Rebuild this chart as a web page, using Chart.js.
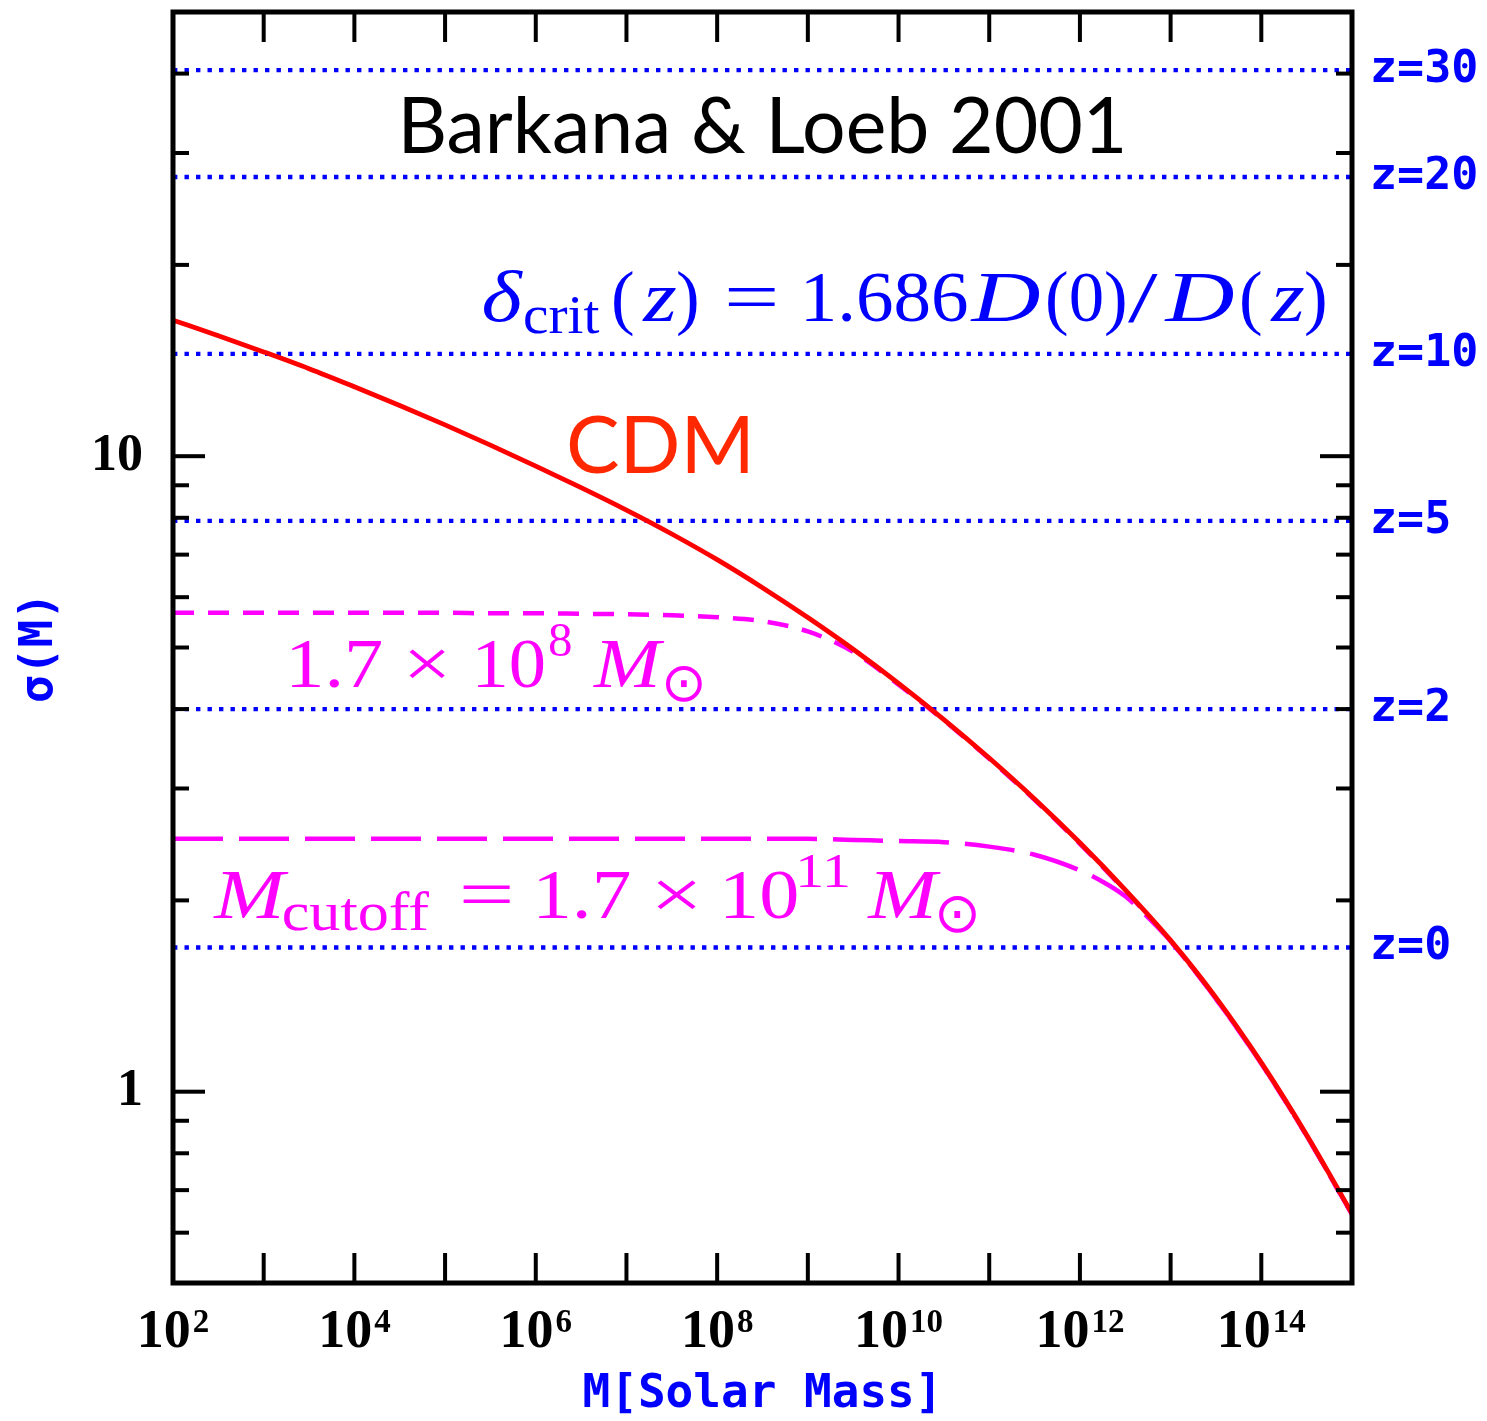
<!DOCTYPE html>
<html>
<head>
<meta charset="utf-8">
<script src="https://cdn.jsdelivr.net/npm/chart.js@4.4.1/dist/chart.umd.min.js"></script>
<style>
html,body{margin:0;padding:0;background:#fff;}
#wrap{width:1487px;height:1421px;position:relative;}
canvas{display:block;}
</style>
</head>
<body>
<div id="wrap"><canvas id="c" width="1487" height="1421"></canvas></div>
<script>
// ---------------- data ----------------
const massGrid = [1e2, 3.162e2, 1e3, 3.162e3, 1e4, 3.162e4, 1e5, 3.162e5, 1e6, 3.162e6, 1e7, 3.162e7, 1e8, 3.162e8, 1e9, 3.162e9, 1e10, 3.162e10, 1e11, 3.162e11, 1e12, 3.162e12, 1e13, 3.162e13, 1e14, 3.162e14, 1e15];
const cdmSigma = [16.37, 15.47, 14.59, 13.73, 12.86, 12.02, 11.20, 10.41, 9.647, 8.921, 8.224, 7.543, 6.873, 6.210, 5.573, 4.968, 4.391, 3.851, 3.350, 2.888, 2.464, 2.078, 1.730, 1.406, 1.111, 0.855, 0.643];
const cut8Sigma = [5.67, 5.67, 5.67, 5.67, 5.67, 5.67, 5.67, 5.66, 5.66, 5.65, 5.64, 5.62, 5.58, 5.50, 5.30, 4.92, 4.37, 3.84, 3.34, 2.88, 2.455, 2.07, 1.724, 1.40, 1.107, 0.852, 0.641];
const cut11Mass = [1e2, 3.162e2, 1e3, 3.162e3, 1e4, 3.162e4, 1e5, 3.162e5, 1e6, 3.162e6, 1e7, 3.162e7, 1e8, 3.162e8, 1e9, 3.162e9, 1e10, 3.162e10, 1e11, 3.162e11, 1e12, 1.778e12, 3.162e12, 5.623e12, 1e13, 3.162e13, 1e14, 3.162e14, 1e15];
const cut11Sigma = [2.50, 2.50, 2.50, 2.50, 2.50, 2.50, 2.50, 2.50, 2.50, 2.50, 2.50, 2.50, 2.50, 2.50, 2.50, 2.49, 2.48, 2.47, 2.43, 2.36, 2.23, 2.14, 2.03, 1.88, 1.725, 1.40, 1.107, 0.852, 0.641];
const deltaCrit = [1.686, 4.00, 7.91, 14.49, 27.5, 40.5];
const zLabels = ['z=0', 'z=2', 'z=5', 'z=10', 'z=20', 'z=30'];
const lineEnds = [1e2, 1e15];
const xDecadeTicks = [1e3, 1e4, 1e5, 1e6, 1e7, 1e8, 1e9, 1e10, 1e11, 1e12, 1e13, 1e14];
const xLabelExponents = [2, 4, 6, 8, 10, 12, 14];
const yMajorTicks = [1, 10];
const yMinorTicks = [0.6, 0.7, 0.8, 0.9, 2, 3, 4, 5, 6, 7, 8, 9, 20, 30, 40];

// ---------------- styles ----------------
const RED = '#ff0000', MAG = '#ff00ff', BLUE = '#0000ff';
const MATH = "'Liberation Serif', 'DejaVu Serif', serif";
const MONO = "'DejaVu Sans Mono', monospace";
const SANS = "Lato, 'Open Sans', sans-serif";
const SUN = "'DejaVu Sans', sans-serif";

function pts(xs, ys) { return xs.map((x, i) => ({x: x, y: ys[i]})); }

const datasets = [
  {label: 'CDM', data: pts(massGrid, cdmSigma), borderColor: RED, borderWidth: 4.8, order: 0,
   cubicInterpolationMode: 'monotone'},
  {label: 'cut 1.7e8', data: pts(massGrid, cut8Sigma), borderColor: MAG, borderWidth: 4.5, borderDash: [21, 14], order: 1,
   cubicInterpolationMode: 'monotone'},
  {label: 'cut 1.7e11', data: pts(cut11Mass, cut11Sigma), borderColor: MAG, borderWidth: 4.5, borderDash: [50, 16], order: 2,
   cubicInterpolationMode: 'monotone'}
];
deltaCrit.forEach((d, i) => {
  datasets.push({label: zLabels[i], data: pts(lineEnds, [d, d]), borderColor: BLUE, borderWidth: 4.4,
    borderDash: [4.4, 7.1], borderCapStyle: 'butt', order: 3});
});

// math-like text: each piece placed at an offset (px) from the anchor, optionally stretched to a visible width
function drawPlaced(ctx, ax, ay, size, color, segs) {
  ctx.fillStyle = color; ctx.textBaseline = 'alphabetic'; ctx.textAlign = 'left';
  segs.forEach(s => {
    const sc = s.sc || (s.pos === 'sup' ? 0.7 : (s.pos === 'sub' ? 0.78 : 1));
    const fs = size * sc;
    ctx.font = (s.it ? 'italic ' : '') + fs + 'px ' + (s.fam || MATH);
    const m = ctx.measureText(s.t);
    const vis = m.actualBoundingBoxLeft + m.actualBoundingBoxRight;
    let f = s.w ? s.w / vis : 1;
    f = Math.max(0.75, Math.min(1.5, f));
    const dy = s.dy !== undefined ? s.dy * size : (s.pos === 'sup' ? -0.44 * size : (s.pos === 'sub' ? 0.17 * size : 0));
    ctx.save();
    ctx.translate(ax + s.dx + m.actualBoundingBoxLeft * f, ay + dy);
    ctx.scale(f, 1);
    ctx.fillText(s.t, 0, 0);
    ctx.restore();
  });
}
function fitText(ctx, text, fam, size, targetW) {
  ctx.font = size + 'px ' + fam;
  let f = targetW / ctx.measureText(text).width;
  f = Math.max(0.88, Math.min(1.12, f));
  return size * f;
}

const annotations = {
  id: 'annotations',
  afterDatasetsDraw(chart) {
    const {ctx, scales: {x, y}} = chart;
    ctx.save();
    // title
    let fs = fitText(ctx, 'Barkana & Loeb 2001', SANS, 82, 730);
    ctx.font = fs + 'px ' + SANS; ctx.fillStyle = '#000'; ctx.textAlign = 'center'; ctx.textBaseline = 'alphabetic';
    ctx.fillText('Barkana & Loeb 2001', x.getPixelForValue(3.162e8), y.getPixelForValue(30));
    // CDM
    fs = fitText(ctx, 'CDM', SANS, 83, 189);
    ctx.font = fs + 'px ' + SANS; ctx.fillStyle = '#ff2800'; ctx.textAlign = 'left';
    ctx.fillText('CDM', x.getPixelForValue(2.15e6), y.getPixelForValue(9.41));
    // delta crit
    drawPlaced(ctx, x.getPixelForValue(2.69e5), y.getPixelForValue(16.31), 71, BLUE, [
      {t: 'δ', it: true, dx: 0, w: 39}, {t: 'crit', pos: 'sub', dx: 41, w: 75},
      {t: '(', dx: 130}, {t: 'z', it: true, dx: 158, w: 34}, {t: ')', dx: 194},
      {t: '=', dx: 244, w: 47}, {t: '1.686', dx: 322, w: 161},
      {t: 'D', it: true, dx: 486, w: 70}, {t: '(0)', dx: 564, w: 77}, {t: '/', dx: 644, w: 31},
      {t: 'D', it: true, dx: 680, w: 70}, {t: '(', dx: 758}, {t: 'z', it: true, dx: 786, w: 34}, {t: ')', dx: 822}
    ]);
    // 1.7e8 label
    drawPlaced(ctx, x.getPixelForValue(2.05e3), y.getPixelForValue(4.33), 70, MAG, [
      {t: '1.7', dx: 0, w: 89}, {t: '×', dx: 117, w: 37}, {t: '10', dx: 186, w: 66},
      {t: '8', pos: 'sup', dx: 257}, {t: 'M', it: true, dx: 301, w: 72},
      {t: '⊙', fam: SUN, sc: 0.78, dy: 0.2, dx: 373}
    ]);
    // cutoff label
    drawPlaced(ctx, x.getPixelForValue(276), y.getPixelForValue(1.877), 70, MAG, [
      {t: 'M', it: true, dx: 0, w: 76}, {t: 'cutoff', pos: 'sub', dx: 71, w: 146},
      {t: '=', dx: 250, w: 48}, {t: '1.7', dx: 326, w: 90}, {t: '×', dx: 444, w: 40},
      {t: '10', dx: 513, w: 71}, {t: '11', pos: 'sup', dx: 587, w: 48},
      {t: 'M', it: true, dx: 654, w: 74}, {t: '⊙', fam: SUN, sc: 0.8, dy: 0.2, dx: 726}
    ]);
    ctx.restore();
  }
};

const frameTicks = {
  id: 'frameTicks',
  afterDraw(chart) {
    const {ctx, chartArea: a, scales: {x, y}} = chart;
    ctx.save();
    ctx.strokeStyle = '#000'; ctx.lineCap = 'butt'; ctx.lineWidth = 4;
    const seg = (x1, y1, x2, y2) => { ctx.beginPath(); ctx.moveTo(x1, y1); ctx.lineTo(x2, y2); ctx.stroke(); };
    yMinorTicks.forEach(v => { const p = y.getPixelForValue(v); seg(a.left, p, a.left + 16, p); seg(a.right, p, a.right - 16, p); });
    yMajorTicks.forEach(v => { const p = y.getPixelForValue(v); seg(a.left, p, a.left + 32, p); seg(a.right, p, a.right - 32, p); });
    xDecadeTicks.forEach(v => { const p = x.getPixelForValue(v); seg(p, a.bottom, p, a.bottom - 30); seg(p, a.top, p, a.top + 30); });
    ctx.lineWidth = 5; ctx.lineJoin = 'miter';
    ctx.strokeRect(a.left, a.top, a.right - a.left, a.bottom - a.top);
    // x tick labels with superscripts
    ctx.fillStyle = '#000'; ctx.textBaseline = 'alphabetic'; ctx.textAlign = 'left';
    const base = "bold 54px " + MATH, sup = "bold 33px " + MATH;
    const by = a.bottom + 64;
    xLabelExponents.forEach(e => {
      const px = x.getPixelForValue(Math.pow(10, e));
      ctx.font = base; const w1 = ctx.measureText('10').width;
      ctx.font = sup; const w2 = ctx.measureText(String(e)).width;
      const sx = px - (w1 + w2 + 2) / 2;
      ctx.font = base; ctx.fillText('10', sx, by);
      ctx.font = sup; ctx.fillText(String(e), sx + w1 + 2, by - 15);
    });
    ctx.restore();
  }
};

function noPad(s) { s.paddingTop = 0; s.paddingBottom = 0; s.paddingLeft = 0; s.paddingRight = 0; }

new Chart(document.getElementById('c'), {
  type: 'line',
  data: {datasets: datasets},
  options: {
    responsive: false, animation: false, devicePixelRatio: 1,
    layout: {padding: {top: 12, left: 0, right: 0, bottom: 0}},
    elements: {point: {radius: 0, hoverRadius: 0}, line: {fill: false}},
    plugins: {legend: {display: false}, tooltip: {enabled: false}},
    events: [],
    scales: {
      x: {
        type: 'logarithmic', min: 1e2, max: 1e15, position: 'bottom',
        grid: {display: false, drawTicks: false}, border: {display: false},
        ticks: {display: false},
        title: {display: true, text: 'M[Solar Mass]', color: BLUE,
          font: {family: MONO, weight: 'bold', size: 46, lineHeight: 1}, padding: {top: 0, bottom: 3}},
        afterFit: s => { s.height = 138; noPad(s); }
      },
      y: {
        type: 'logarithmic', min: 0.5, max: 50, position: 'left',
        grid: {display: false, drawTicks: false}, border: {display: false},
        afterBuildTicks: s => { s.ticks = yMajorTicks.map(v => ({value: v})); },
        ticks: {color: '#000', padding: 30, autoSkip: false,
          font: {family: MATH, weight: 'bold', size: 52},
          callback: v => String(v)},
        title: {display: true, text: 'σ(M)', color: BLUE,
          font: {family: MONO, weight: 'bold', size: 46, lineHeight: 1}, padding: {top: 17, bottom: 0}},
        afterFit: s => { s.width = 173; noPad(s); }
      },
      y2: {
        type: 'logarithmic', min: 0.5, max: 50, position: 'right',
        grid: {display: false, drawTicks: false}, border: {display: false},
        afterBuildTicks: s => { s.ticks = deltaCrit.map(v => ({value: v})); },
        ticks: {color: BLUE, padding: 18, autoSkip: false,
          font: {family: MONO, weight: 'bold', size: 45},
          callback: (v, i) => zLabels[i]},
        afterFit: s => { s.width = 135; noPad(s); }
      }
    }
  },
  plugins: [annotations, frameTicks]
});
</script>
</body>
</html>
